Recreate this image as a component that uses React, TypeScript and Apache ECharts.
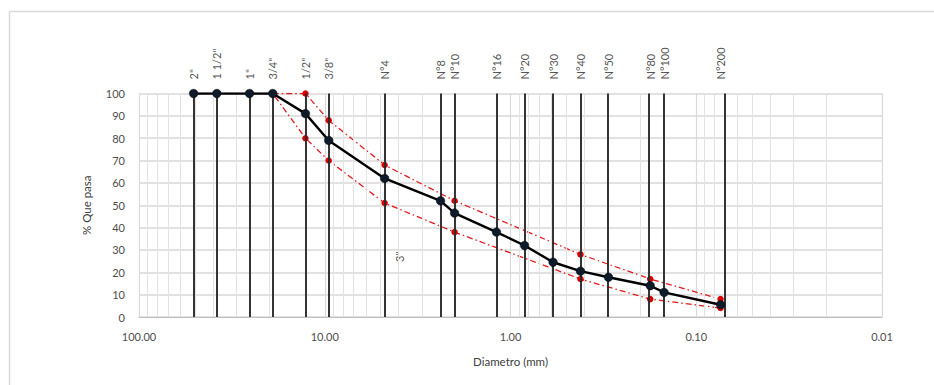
import React, { useEffect, useRef } from "react";
import * as echarts from "echarts";

// Sieve designations and openings (mm)
const sieveLabels = ['2"', '1 1/2"', '1"', '3/4"', '1/2"', '3/8"', 'N°4', 'N°8', 'N°10', 'N°16', 'N°20', 'N°30', 'N°40', 'N°50', 'N°80', 'N°100', 'N°200'];
const sieveSizes = [50.8, 38.1, 25.4, 19.05, 12.7, 9.525, 4.76, 2.38, 2.0, 1.19, 0.84, 0.59, 0.42, 0.297, 0.177, 0.149, 0.074];
// % passing (sample curve)
const percentPassing = [100, 100, 100, 100, 91, 79, 62, 52, 46.5, 38, 32, 24.5, 20.5, 17.8, 14, 11, 5.5];

// Specification envelope
const upperSizes = [19.05, 12.7, 9.525, 4.76, 2.0, 0.42, 0.177, 0.074];
const upperValues = [100, 100, 88, 68, 52, 28, 17, 8];
const lowerSizes = [25.4, 19.05, 12.7, 9.525, 4.76, 2.0, 0.42, 0.177, 0.074];
const lowerValues = [100, 100, 80, 70, 51, 38, 17, 8, 4];

// Stray label inside plot
const strayLabel = { text: '3"', size: 3.95, value: 27 };

// Log-axis minor gridlines
const decades = [0.01, 0.1, 1, 10];
const minorSteps = [2, 3, 4, 5, 6, 7, 8, 9];

const FONT = "Lato";

export default function App() {
  const ref = useRef<HTMLDivElement>(null);
  useEffect(() => {
    if (!ref.current) return;
    const chart = echarts.init(ref.current, null, { renderer: "svg" });
    const minorGrid = decades.flatMap((d) => minorSteps.map((k) => k * d));
    const pair = (xs: number[], ys: number[]) => xs.map((x, i) => [x, ys[i]]);
    chart.setOption({
      animation: false,
      backgroundColor: "#ffffff",
      textStyle: { fontFamily: FONT },
      graphic: [
        {
          type: "rect",
          shape: { x: 9.5, y: 11.5, width: 960, height: 400 },
          style: { fill: "none", stroke: "#d9d9d9", lineWidth: 1.5 },
          silent: true,
          z: -10,
        },
      ],
      grid: { left: 139, right: 52, top: 93.5, bottom: 68, containLabel: false },
      xAxis: {
        type: "log",
        logBase: 10,
        min: 0.01,
        max: 100,
        inverse: true,
        name: "Diametro (mm)",
        nameLocation: "middle",
        nameGap: 38,
        nameTextStyle: { color: "#404040", fontSize: 11.5, fontFamily: FONT },
        axisLine: { show: true, lineStyle: { color: "#bfbfbf", width: 1 } },
        axisTick: { show: false },
        axisLabel: {
          color: "#4d4d4d",
          fontSize: 11,
          fontFamily: FONT,
          margin: 14,
          formatter: (v: number) => Number(v).toFixed(2),
        },
        splitLine: { show: true, lineStyle: { color: "#d9d9d9", width: 1.2 } },
      },
      yAxis: {
        type: "value",
        min: 0,
        max: 100,
        interval: 10,
        name: "% Que pasa",
        nameLocation: "middle",
        nameGap: 47,
        nameTextStyle: { color: "#404040", fontSize: 11.5, fontFamily: FONT },
        axisLine: { show: false },
        axisTick: { show: false },
        axisLabel: { color: "#4d4d4d", fontSize: 11, fontFamily: FONT, margin: 14 },
        splitLine: { show: true, lineStyle: { color: "#d9d9d9", width: 1.5 } },
      },
      series: [
        {
          type: "line",
          name: "minor",
          data: [],
          silent: true,
          z: 1,
          markLine: {
            silent: true,
            symbol: "none",
            animation: false,
            label: { show: false },
            lineStyle: { color: "#e3e3e3", width: 1, type: "solid" },
            data: minorGrid.map((v) => ({ xAxis: v })),
          },
        },
        {
          type: "line",
          name: "sieves",
          data: [],
          silent: true,
          z: 2,
          markLine: {
            silent: true,
            symbol: "none",
            animation: false,
            label: { show: false },
            lineStyle: { color: "#2b2b2b", width: 1.9, type: "solid" },
            data: sieveSizes.map((v) => ({ xAxis: v })),
          },
        },
        {
          type: "scatter",
          name: "sieveLabels",
          symbolSize: 0,
          silent: true,
          z: 3,
          data: sieveSizes.map((s, i) => ({ value: [s, 100], name: sieveLabels[i] })),
          label: {
            show: true,
            position: "top",
            distance: 14,
            rotate: 90,
            align: "left",
            verticalAlign: "middle",
            color: "#262626",
            fontSize: 11,
            fontFamily: FONT,
            formatter: (p: any) => p.name,
          },
        },
        {
          type: "scatter",
          name: "stray",
          symbolSize: 0,
          silent: true,
          z: 3,
          data: [{ value: [strayLabel.size, strayLabel.value], name: strayLabel.text }],
          label: {
            show: true,
            position: "inside",
            rotate: 90,
            align: "center",
            verticalAlign: "middle",
            color: "#262626",
            fontSize: 11,
            fontFamily: FONT,
            formatter: (p: any) => p.name,
          },
        },
        {
          type: "line",
          name: "upper",
          data: pair(upperSizes, upperValues),
          symbol: "circle",
          symbolSize: 6.5,
          z: 4,
          lineStyle: { color: "#e31a1c", width: 1.3, type: [6, 3, 1.5, 3] },
          itemStyle: { color: "#d60000" },
        },
        {
          type: "line",
          name: "lower",
          data: pair(lowerSizes, lowerValues),
          symbol: "circle",
          symbolSize: 6.5,
          z: 4,
          lineStyle: { color: "#e31a1c", width: 1.3, type: [6, 3, 1.5, 3] },
          itemStyle: { color: "#d60000" },
        },
        {
          type: "line",
          name: "muestra",
          data: pair(sieveSizes, percentPassing),
          symbol: "circle",
          symbolSize: 8.5,
          z: 5,
          lineStyle: { color: "#000000", width: 2.4 },
          itemStyle: { color: "#0d1b2a", borderColor: "#000", borderWidth: 0.5 },
        },
      ],
    });
    return () => chart.dispose();
  }, []);
  return (
    <div
      ref={ref}
      style={{ position: "fixed", left: 0, top: 0, width: 934, height: 385 }}
    />
  );
}
